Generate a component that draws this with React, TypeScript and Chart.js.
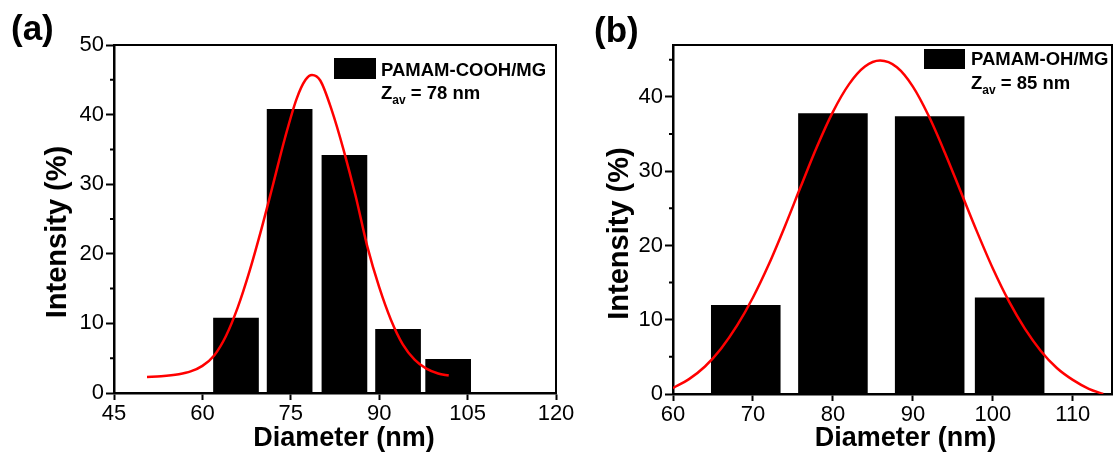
import React, { useEffect, useRef } from "react";
import { Chart, registerables } from "chart.js";

Chart.register(...registerables);

const FONT = "'Liberation Sans', Arial, Helvetica, sans-serif";

// ---------- Panel (a): PAMAM-COOH/MG ----------
const diameterA = [65.7, 74.8, 84.1, 93.2, 101.7];
const intensityA = [10.8, 40.8, 34.2, 9.2, 4.9];
const binWidthA = 7.75;
const fitDiameterA = [50.6, 53, 56, 58, 60, 62, 64, 66, 68, 70, 72, 74, 76, 77.5, 78.6, 80, 82, 84, 86, 88, 90, 92, 94, 96, 98, 100, 101.8];
const fitIntensityA = [2.3, 2.4, 2.7, 3.1, 3.9, 5.4, 8.2, 12.3, 17.5, 23.5, 30.0, 36.6, 42.3, 45.0, 45.7, 44.9, 40.5, 34.8, 28.3, 21.0, 15.2, 10.5, 7.0, 4.8, 3.5, 2.8, 2.5];
const xTicksA = [45, 60, 75, 90, 105, 120];
const yTicksA = [0, 10, 20, 30, 40, 50];
const yMinorA = [5, 15, 25, 35, 45];
const xRangeA = [45, 120];
const yRangeA = [0, 50];
const seriesA = "PAMAM-COOH/MG";
const zavA = "78 nm";

// ---------- Panel (b): PAMAM-OH/MG ----------
const diameterB = [69.1, 80.0, 92.1, 102.1];
const intensityB = [12.0, 37.8, 37.4, 13.0];
const binWidthB = 8.7;
const fitDiameterB = [60, 62, 64, 66, 68, 70, 72, 74, 76, 78, 80, 82, 84, 85.9, 88, 90, 92, 94, 96, 98, 100, 102, 104, 106, 108, 110, 112, 113.8];
const fitIntensityB = [0.8, 2.0, 3.7, 6.1, 9.2, 13.0, 17.5, 22.6, 28.0, 33.3, 38.0, 41.7, 44.1, 44.9, 44.0, 41.4, 37.4, 32.5, 27.2, 21.9, 16.9, 12.5, 8.8, 5.8, 3.5, 1.9, 0.7, 0.0];
const xTicksB = [60, 70, 80, 90, 100, 110];
const yTicksB = [0, 10, 20, 30, 40];
const yMinorB = [5, 15, 25, 35, 45];
const xRangeB = [60, 114.9];
const yRangeB = [0, 47];
const seriesB = "PAMAM-OH/MG";
const zavB = "85 nm";

const X_TITLE = "Diameter (nm)";
const Y_TITLE = "Intensity (%)";

type Panel = {
  diameter: number[];
  intensity: number[];
  binWidth: number;
  fitX: number[];
  fitY: number[];
  xTicks: number[];
  yTicks: number[];
  yMinor: number[];
  xRange: number[];
  yRange: number[];
  series: string;
  zav: string;
  tag: string;
  layout: {
    yAxisWidth: number;
    xAxisHeight: number;
    padRight: number;
    panelX: number;
    panelY: number;
    xTitleShift: number;
    xTitleY: number;
    yTitleX: number;
    yTitleShift: number;
    boxX: number;
    boxY: number;
    boxW: number;
    boxH: number;
    textX: number;
    line1Y: number;
    line2Y: number;
  };
};

const panelA: Panel = {
  diameter: diameterA,
  intensity: intensityA,
  binWidth: binWidthA,
  fitX: fitDiameterA,
  fitY: fitIntensityA,
  xTicks: xTicksA,
  yTicks: yTicksA,
  yMinor: yMinorA,
  xRange: xRangeA,
  yRange: yRangeA,
  series: seriesA,
  zav: zavA,
  tag: "(a)",
  layout: {
    yAxisWidth: 114,
    xAxisHeight: 60,
    padRight: 34,
    panelX: 11,
    panelY: 40,
    xTitleShift: 9,
    xTitleY: 446,
    yTitleX: 66,
    yTitleShift: 13,
    boxX: 334,
    boxY: 58,
    boxW: 42,
    boxH: 21,
    textX: 381,
    line1Y: 76,
    line2Y: 99,
  },
};

const panelB: Panel = {
  diameter: diameterB,
  intensity: intensityB,
  binWidth: binWidthB,
  fitX: fitDiameterB,
  fitY: fitIntensityB,
  xTicks: xTicksB,
  yTicks: yTicksB,
  yMinor: yMinorB,
  xRange: xRangeB,
  yRange: yRangeB,
  series: seriesB,
  zav: zavB,
  tag: "(b)",
  layout: {
    yAxisWidth: 83,
    xAxisHeight: 59,
    padRight: 3,
    panelX: 4,
    panelY: 42,
    xTitleShift: 13,
    xTitleY: 446,
    yTitleX: 38,
    yTitleShift: 14,
    boxX: 334,
    boxY: 49,
    boxW: 41,
    boxH: 20,
    textX: 381,
    line1Y: 65,
    line2Y: 89,
  },
};

const decorPlugin = {
  id: "decor",
  afterDraw(chart: any, _args: any, opts: any) {
    const p: Panel = opts.panel;
    if (!p) return;
    const L = p.layout;
    const ctx = chart.ctx as CanvasRenderingContext2D;
    const ca = chart.chartArea;
    const ys = chart.scales.y;
    ctx.save();
    // top & right frame
    ctx.strokeStyle = "#000";
    ctx.lineWidth = 2;
    ctx.beginPath();
    ctx.moveTo(ca.left, ca.top);
    ctx.lineTo(ca.right, ca.top);
    ctx.lineTo(ca.right, ca.bottom);
    ctx.stroke();
    // minor ticks on y axis
    ctx.beginPath();
    for (const v of p.yMinor) {
      const y = ys.getPixelForValue(v);
      ctx.moveTo(ca.left - 4, y);
      ctx.lineTo(ca.left, y);
    }
    ctx.stroke();
    // legend
    ctx.fillStyle = "#000";
    ctx.fillRect(L.boxX, L.boxY, L.boxW, L.boxH);
    ctx.textAlign = "left";
    ctx.textBaseline = "alphabetic";
    ctx.font = `bold 18.5px ${FONT}`;
    ctx.fillText(p.series, L.textX, L.line1Y);
    ctx.fillText("Z", L.textX, L.line2Y);
    const zw = ctx.measureText("Z").width;
    ctx.font = `bold 12px ${FONT}`;
    ctx.fillText("av", L.textX + zw, L.line2Y + 5);
    const aw = ctx.measureText("av").width;
    ctx.font = `bold 18.5px ${FONT}`;
    ctx.fillText(" = " + p.zav, L.textX + zw + aw, L.line2Y);
    // panel tag
    ctx.font = `bold 35px ${FONT}`;
    ctx.fillText(p.tag, L.panelX, L.panelY);
    // x title
    ctx.font = `bold 27px ${FONT}`;
    ctx.textAlign = "center";
    ctx.fillText(X_TITLE, (ca.left + ca.right) / 2 + L.xTitleShift, L.xTitleY);
    // y title
    ctx.font = `bold 29px ${FONT}`;
    ctx.translate(L.yTitleX, (ca.top + ca.bottom) / 2 + L.yTitleShift);
    ctx.rotate(-Math.PI / 2);
    ctx.fillText(Y_TITLE, 0, 0);
    ctx.restore();
  },
};

function buildChart(canvas: HTMLCanvasElement, p: Panel) {
  const diffs = p.diameter.slice(1).map((v, i) => v - p.diameter[i]);
  const tickStep = p.xTicks[1] - p.xTicks[0];
  const minSpacing = Math.min(tickStep, ...diffs);
  const L = p.layout;
  const tickFont = { family: FONT, size: 22 };
  return new Chart(canvas, {
    type: "bar",
    data: {
      datasets: [
        {
          type: "line",
          label: "fit",
          data: p.fitX.map((x, i) => ({ x, y: p.fitY[i] })),
          borderColor: "#ff0000",
          borderWidth: 2.5,
          pointRadius: 0,
          cubicInterpolationMode: "monotone",
          fill: false,
          order: 0,
        } as any,
        {
          type: "bar",
          label: p.series,
          data: p.diameter.map((x, i) => ({ x, y: p.intensity[i] })),
          backgroundColor: "#000",
          borderWidth: 0,
          barPercentage: p.binWidth / minSpacing,
          categoryPercentage: 1,
          order: 1,
        } as any,
      ],
    },
    options: {
      animation: false,
      responsive: false,
      maintainAspectRatio: false,
      layout: { padding: { left: 0, right: L.padRight, top: 45, bottom: 0 } },
      plugins: {
        legend: { display: false },
        tooltip: { enabled: false },
        title: { display: false },
        decor: { panel: p },
      } as any,
      scales: {
        x: {
          type: "linear",
          min: p.xRange[0],
          max: p.xRange[1],
          offset: false,
          afterBuildTicks: (s: any) => {
            s.ticks = p.xTicks.map((v) => ({ value: v }));
          },
          ticks: {
            autoSkip: false,
            maxRotation: 0,
            color: "#000",
            font: tickFont,
            padding: 1,
          },
          grid: {
            offset: false,
            drawOnChartArea: false,
            drawTicks: true,
            tickLength: 7,
            tickWidth: 2,
            tickColor: "#000",
          },
          border: { display: true, color: "#000", width: 2.5 },
          afterFit: (s: any) => {
            s.height = L.xAxisHeight;
          },
        },
        y: {
          type: "linear",
          min: p.yRange[0],
          max: p.yRange[1],
          afterBuildTicks: (s: any) => {
            s.ticks = p.yTicks.map((v) => ({ value: v }));
          },
          ticks: {
            color: "#000",
            font: tickFont,
            padding: 2,
          },
          grid: {
            offset: false,
            drawOnChartArea: false,
            drawTicks: true,
            tickLength: 8,
            tickWidth: 2,
            tickColor: "#000",
          },
          border: { display: true, color: "#000", width: 2.5 },
          afterFit: (s: any) => {
            s.width = L.yAxisWidth;
          },
        },
      },
    } as any,
    plugins: [decorPlugin as any],
  });
}

export default function App() {
  const refA = useRef<HTMLCanvasElement>(null);
  const refB = useRef<HTMLCanvasElement>(null);
  useEffect(() => {
    const a = buildChart(refA.current!, panelA);
    const b = buildChart(refB.current!, panelB);
    return () => {
      a.destroy();
      b.destroy();
    };
  }, []);
  return (
    <div
      style={{
        position: "fixed",
        left: 0,
        top: 0,
        width: 1115,
        height: 453,
        background: "#fff",
        overflow: "hidden",
      }}
    >
      <canvas
        ref={refA}
        width={590}
        height={453}
        style={{ position: "absolute", left: 0, top: 0, width: 590, height: 453 }}
      />
      <canvas
        ref={refB}
        width={525}
        height={453}
        style={{ position: "absolute", left: 590, top: 0, width: 525, height: 453 }}
      />
    </div>
  );
}
